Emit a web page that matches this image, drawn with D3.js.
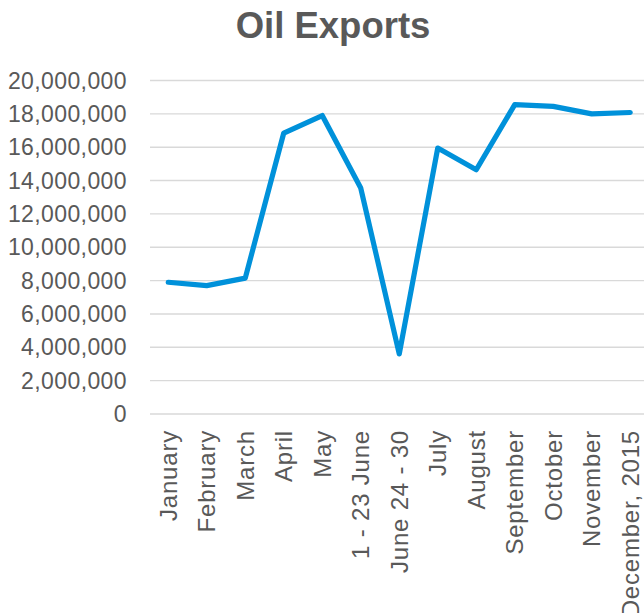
<!DOCTYPE html>
<html>
<head>
<meta charset="utf-8">
<script src="https://cdn.jsdelivr.net/npm/d3@7"></script>
<style>
  html, body { margin: 0; padding: 0; background: #fff; }
  svg { display: block; font-family: "Liberation Sans", Arial, sans-serif; }
</style>
</head>
<body>
<svg id="chart" width="644" height="613"></svg>
<script>
// Monthly oil exports (barrels)
const categories = ["January", "February", "March", "April", "May", "1 - 23 June",
  "June 24 - 30", "July", "August", "September", "October", "November", "December, 2015"];
const exportsValues = [7900000, 7700000, 8150000, 16850000, 17900000, 13550000,
  3600000, 15950000, 14650000, 18550000, 18450000, 18000000, 18080000];
const yTicks = [0, 2000000, 4000000, 6000000, 8000000, 10000000, 12000000,
  14000000, 16000000, 18000000, 20000000];
const titleText = "Oil Exports";

const svg = d3.select("#chart");
const textColor = "#595959";

const plot = { left: 149, right: 649.5, top: 80.5, bottom: 414 };

const x = d3.scalePoint().domain(categories).range([plot.left, plot.right]).padding(0.5);
const y = d3.scaleLinear().domain([0, 20000000]).range([plot.bottom, plot.top]);

// Title
svg.append("text")
  .attr("x", 333).attr("y", 38)
  .attr("text-anchor", "middle")
  .attr("fill", textColor)
  .style("font-size", "36.5px").style("font-weight", "bold")
  .text(titleText);

// Horizontal gridlines
svg.append("g").selectAll("line").data(yTicks).join("line")
  .attr("x1", 150).attr("x2", 644)
  .attr("y1", d => y(d)).attr("y2", d => y(d))
  .attr("stroke", "#d9d9d9").attr("stroke-width", 1.4);

// Y axis labels
const fmt = d3.format(",");
svg.append("g").selectAll("text").data(yTicks).join("text")
  .attr("x", 127).attr("y", d => y(d))
  .attr("dy", "0.35em")
  .attr("text-anchor", "end")
  .attr("fill", textColor)
  .style("font-size", "23px").style("letter-spacing", "0.4px")
  .text(d => fmt(d));

// X axis labels (rotated); the last one runs past the bottom edge
svg.append("g").selectAll("text").data(categories).join("text")
  .attr("transform", d => `translate(${x(d)},430) rotate(-90)`)
  .attr("dy", "0.35em")
  .attr("text-anchor", "end")
  .attr("fill", textColor)
  .style("font-size", "24px").style("letter-spacing", "0.8px")
  .text(d => d);

// Export line
const line = d3.line()
  .x((d, i) => x(categories[i]))
  .y(d => y(d));

svg.append("path")
  .datum(exportsValues)
  .attr("d", line)
  .attr("fill", "none")
  .attr("stroke", "#0091da")
  .attr("stroke-width", 5.2)
  .attr("stroke-linejoin", "round")
  .attr("stroke-linecap", "round");
</script>
</body>
</html>
